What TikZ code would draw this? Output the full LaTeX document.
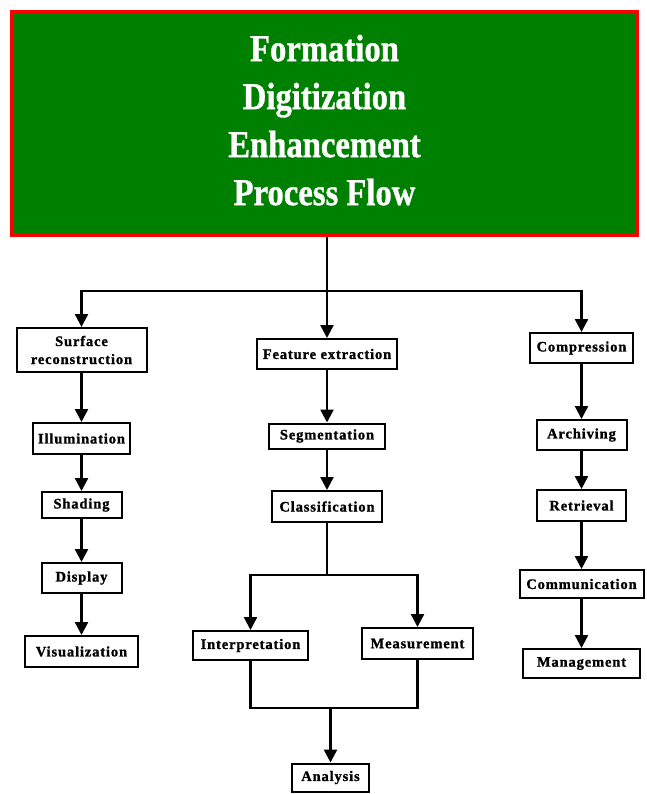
\documentclass[tikz,border=0pt]{standalone}
\usepackage{fontspec}
\setmainfont{Liberation Serif}
\newfontfamily\boxfont[LetterSpace=6.0,FakeBold=1.2]{Liberation Serif}
\newfontfamily\titlefont[FakeBold=1.0]{Liberation Serif}
\usetikzlibrary{arrows.meta}
\definecolor{titlegreen}{RGB}{0,128,0}
\definecolor{titlered}{RGB}{255,0,0}
\tikzset{
  stepbox/.style={draw=black, line width=2pt, fill=white, inner sep=0pt,
    font=\boxfont\bfseries\fontsize{14.5}{18}\selectfont, align=center},
  conn/.style={draw=black, line width=2.5pt, line join=miter},
  arr/.style={conn, -{Triangle[length=13pt,width=13pt]}},
}
\begin{document}
\begin{tikzpicture}[x=1pt,y=-1pt]
\useasboundingbox (0,0) rectangle (646,794);
\fill[white] (0,0) rectangle (646,794);

% title
\node[draw=titlered, fill=titlegreen, line width=4pt, minimum width=625pt, minimum height=223pt,
  inner sep=0pt, text=white, font=\titlefont\bfseries\fontsize{38}{48}\selectfont] (title) at (324.5,123.5)
  {\scalebox{0.86}[1]{\begin{tabular}{@{}c@{}}Formation\\Digitization\\Enhancement\\Process Flow\end{tabular}}};

% left column
\node[stepbox, minimum width=130pt, minimum height=44pt] (surf) at (81.5,350) {Surface\\reconstruction};
\node[stepbox, minimum width=97pt, minimum height=31pt] (illum) at (81.5,438.5) {Illumination};
\node[stepbox, minimum width=80pt, minimum height=26pt] (shad) at (81.5,505) {Shading};
\node[stepbox, minimum width=80pt, minimum height=30pt] (disp) at (81.5,578) {Display};
\node[stepbox, minimum width=113pt, minimum height=31pt] (visu) at (81.5,651.5) {Visualization};

% middle column
\node[stepbox, minimum width=140pt, minimum height=30pt] (feat) at (327,354) {Feature extraction};
\node[stepbox, minimum width=116pt, minimum height=25pt] (segm) at (327,436) {Segmentation};
\node[stepbox, minimum width=110pt, minimum height=31pt] (clas) at (327,506.5) {Classification};
\node[stepbox, minimum width=115pt, minimum height=29pt] (intp) at (250.5,645.5) {Interpretation};
\node[stepbox, minimum width=111pt, minimum height=31pt] (meas) at (417.5,643.5) {Measurement};
\node[stepbox, minimum width=77pt, minimum height=28pt] (anal) at (330.5,777.5) {Analysis};

% right column
\node[stepbox, minimum width=103pt, minimum height=30pt] (comp) at (581.5,348) {Compression};
\node[stepbox, minimum width=90pt, minimum height=30pt] (arch) at (581.5,435) {Archiving};
\node[stepbox, minimum width=89pt, minimum height=31pt] (retr) at (581.5,505.5) {Retrieval};
\node[stepbox, minimum width=124pt, minimum height=28pt] (comm) at (581.5,584) {Communication};
\node[stepbox, minimum width=117pt, minimum height=29pt] (mgmt) at (581.5,663.5) {Management};

% junctions
\coordinate (hl) at (326,291);
\coordinate (split) at (327,575);
\coordinate (merge) at (330.5,708);

% trunk and top distribution
\draw[arr] (feat.north |- title.south) -- (feat.north);
\draw[arr] (comp.north |- hl) -- (surf.north |- hl) -- (surf.north);
\draw[arr] (surf.north |- hl) -- (comp.north |- hl) -- (comp.north);

% left chain
\draw[arr] (surf) -- (illum);
\draw[arr] (illum) -- (shad);
\draw[arr] (shad) -- (disp);
\draw[arr] (disp) -- (visu);

% middle chain
\draw[arr] (feat) -- (segm);
\draw[arr] (segm) -- (clas);
\draw[arr] (clas.south) -- (split) -| (intp.north);
\draw[arr] (clas.south) -- (split) -| (meas.north);
\draw[conn] (intp.south) |- (merge) -| (meas.south);
\draw[arr] (merge) -- (anal.north);

% right chain
\draw[arr] (comp) -- (arch);
\draw[arr] (arch) -- (retr);
\draw[arr] (retr) -- (comm);
\draw[arr] (comm) -- (mgmt);
\end{tikzpicture}
\end{document}
